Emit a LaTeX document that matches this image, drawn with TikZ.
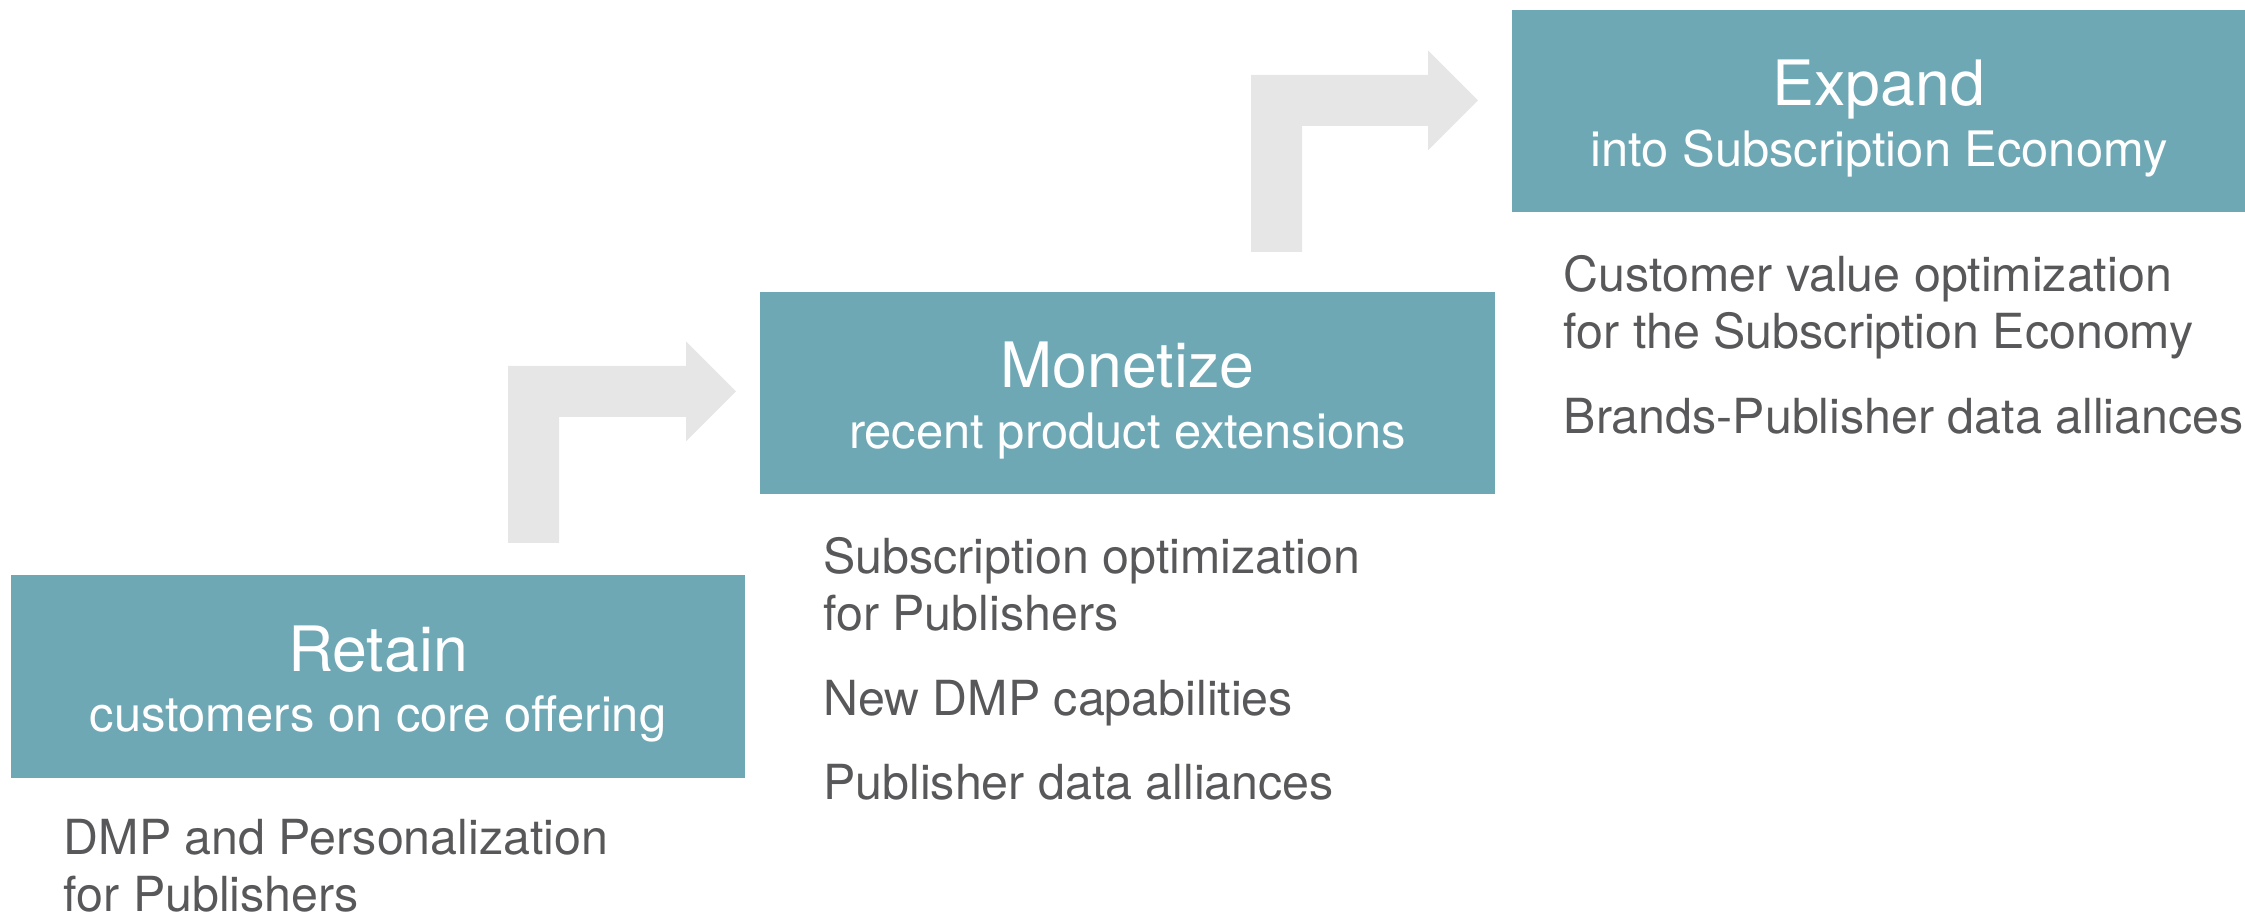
\documentclass[tikz,border=0pt]{standalone}
\usepackage{fontspec}
\setmainfont{TeX Gyre Heros}
\usetikzlibrary{positioning}

\definecolor{stageteal}{RGB}{111,168,181}
\definecolor{stairgray}{RGB}{230,230,230}
\definecolor{bodygray}{RGB}{88,88,90}

% bent block arrow: stem left x, stem foot y, head base x, head centre y
\newcommand{\stairarrow}[4]{%
  \fill[stairgray] (#1,#2) -- (#1+51,#2) -- (#1+51,#4-25.5) -- (#3,#4-25.5) -- (#3,#4-50)
    -- (#3+50,#4) -- (#3,#4+50) -- (#3,#4+25.5) -- (#1,#4+25.5) -- cycle;}

\begin{document}
\begin{tikzpicture}[
    x=0.01cm, y=0.01cm,
    stage/.style={rectangle, fill=stageteal, minimum width=7.34cm, minimum height=2.02cm, inner sep=0pt},
    stagetitle/.style={anchor=base, text=white, inner sep=0pt, font=\fontsize{17.8}{20}\selectfont},
    stagesub/.style={anchor=base, text=white, inner sep=0pt, font=\fontsize{13.9}{16}\selectfont},
    item/.style={align=left, text=bodygray, inner sep=0pt, font=\fontsize{13.75}{16.3}\selectfont}
]
    \useasboundingbox (0,0) rectangle (2245,916);

    % Stages
    \node[stage] (retain) at (378,239.5) {};
    \node[stage] (monetize) at (1127.5,523) {};
    \node[stage] (expand) at (1879,805) {};

    \node[stagetitle] (retain-title) at ([yshift=0.05cm]retain.center) {Retain};
    \node[stagesub] (retain-sub) at ([yshift=-0.55cm]retain.center) {customers on core offering};
    \node[stagetitle] (monetize-title) at ([yshift=0.05cm]monetize.center) {Monetize};
    \node[stagesub] (monetize-sub) at ([yshift=-0.55cm]monetize.center) {recent product extensions};
    \node[stagetitle] (expand-title) at ([yshift=0.05cm]expand.center) {Expand};
    \node[stagesub] (expand-sub) at ([yshift=-0.55cm]expand.center) {into Subscription Economy};

    % Steps up
    \stairarrow{508}{373}{686}{524.5}
    \stairarrow{1251}{664}{1428}{815.5}

    % Offerings under each stage
    \node[item, below right=0.40cm and 0.53cm of retain.south west] (retain-dmp) {DMP and Personalization\\for Publishers};

    \node[item, below right=0.42cm and 0.63cm of monetize.south west] (monetize-subs) {Subscription optimization\\for Publishers};
    \node[item, below right=1.85cm and 0.63cm of monetize.south west] (monetize-dmp) {New DMP capabilities};
    \node[item, below right=2.69cm and 0.63cm of monetize.south west] (monetize-data) {Publisher data alliances};

    \node[item, below right=0.42cm and 0.52cm of expand.south west] (expand-value) {Customer value optimization\\for the Subscription Economy};
    \node[item, below right=1.85cm and 0.52cm of expand.south west] (expand-brands) {Brands-Publisher data alliances};
\end{tikzpicture}
\end{document}
